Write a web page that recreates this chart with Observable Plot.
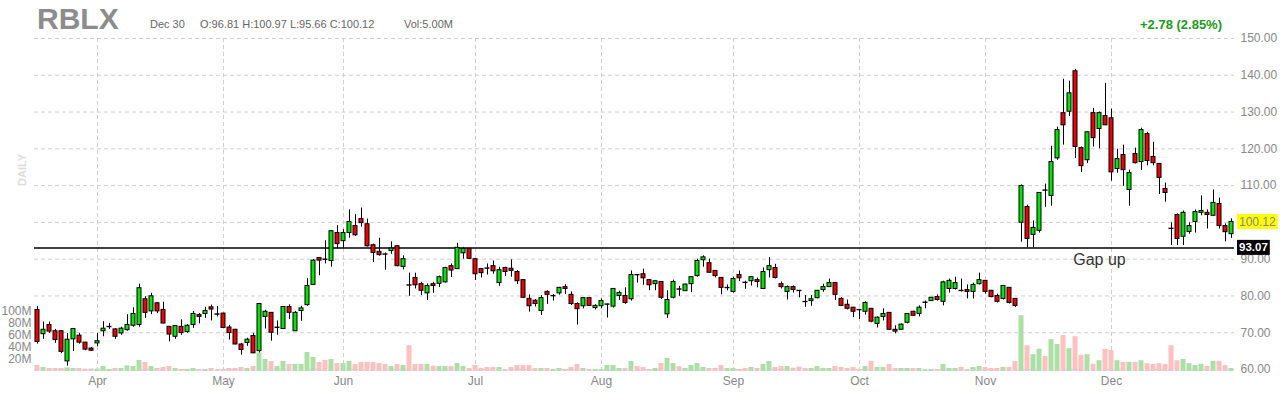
<!DOCTYPE html>
<html>
<head>
<meta charset="utf-8">
<script src="https://cdn.jsdelivr.net/npm/d3@7"></script>
<script src="https://cdn.jsdelivr.net/npm/@observablehq/plot@0.6"></script>
<style>
  body { margin: 0; background: #fff; font-family: "Liberation Sans", Arial, sans-serif; }
  #wrap { position: relative; width: 1280px; height: 400px; overflow: hidden; }
  #wrap svg { position: absolute; left: 0; top: 0; }
  .hdr { position: absolute; white-space: nowrap; line-height: 1; }
  #sym { left: 37px; top: 4px; font-size: 30px; font-weight: bold; color: #8c8c8c; }
  .info { top: 19px; font-size: 11px; color: #666; }
  #chg { right: 58px; top: 18px; font-size: 13px; font-weight: bold; color: #229922; }
  #daily { left: 22px; top: 170px; font-size: 11px; font-weight: bold; color: #dcdcdc; transform: translate(-50%,-50%) rotate(-90deg); }
</style>
</head>
<body>
<div id="wrap">
  <div class="hdr" id="sym"></div>
  <div class="hdr info" id="infoDate" style="left:150px"></div>
  <div class="hdr info" id="infoOhlc" style="left:200px"></div>
  <div class="hdr info" id="infoVol" style="left:404px"></div>
  <div class="hdr" id="chg"></div>
  <div class="hdr" id="daily"></div>
</div>
<script>
// ---------- data ----------
const symbol = "RBLX";
const periodLabel = "DAILY";
const dates = [
"3/18","3/19","3/22","3/23","3/24","3/25","3/26","3/29","3/30","3/31",
"4/1","4/5","4/6","4/7","4/8","4/9","4/12","4/13","4/14","4/15","4/16","4/19","4/20","4/21","4/22","4/23","4/26","4/27","4/28","4/29","4/30",
"5/3","5/4","5/5","5/6","5/7","5/10","5/11","5/12","5/13","5/14","5/17","5/18","5/19","5/20","5/21","5/24","5/25","5/26","5/27","5/28",
"6/1","6/2","6/3","6/4","6/7","6/8","6/9","6/10","6/11","6/14","6/15","6/16","6/17","6/18","6/21","6/22","6/23","6/24","6/25","6/28","6/29","6/30",
"7/1","7/2","7/6","7/7","7/8","7/9","7/12","7/13","7/14","7/15","7/16","7/19","7/20","7/21","7/22","7/23","7/26","7/27","7/28","7/29","7/30",
"8/2","8/3","8/4","8/5","8/6","8/9","8/10","8/11","8/12","8/13","8/16","8/17","8/18","8/19","8/20","8/23","8/24","8/25","8/26","8/27","8/30","8/31",
"9/1","9/2","9/3","9/7","9/8","9/9","9/10","9/13","9/14","9/15","9/16","9/17","9/20","9/21","9/22","9/23","9/24","9/27","9/28","9/29","9/30",
"10/1","10/4","10/5","10/6","10/7","10/8","10/11","10/12","10/13","10/14","10/15","10/18","10/19","10/20","10/21","10/22","10/25","10/26","10/27","10/28","10/29",
"11/1","11/2","11/3","11/4","11/5","11/8","11/9","11/10","11/11","11/12","11/15","11/16","11/17","11/18","11/19","11/22","11/23","11/24","11/26","11/29","11/30",
"12/1","12/2","12/3","12/6","12/7","12/8","12/9","12/10","12/13","12/14","12/15","12/16","12/17","12/20","12/21","12/22","12/23","12/27","12/28","12/29","12/30"
];
const open = [
76.2,69.6,72.1,70.4,70.4,62.2,68.2,69.2,67.3,65.7,
67.1,70.4,71.5,70.9,69.8,70.7,71.9,72.1,79.1,75.8,
78.0,76.2,71.6,68.9,71.6,70.2,72.1,74.8,75.1,76.9,
75.0,75.2,71.4,70.8,66.8,67.2,69.1,65.0,74.3,75.4,
71.3,71.0,77.0,70.4,75.9,77.5,83.0,90.3,89.9,89.5,
97.1,94.9,97.1,99.0,100.9,99.5,93.8,92.0,91.3,92.2,
93.5,87.9,82.9,84.9,83.2,80.7,83.2,83.3,83.7,88.1,
87.3,91.6,92.8,90.0,87.3,87.5,88.1,83.5,87.6,87.4,
86.5,84.3,79.2,78.7,75.9,81.1,79.9,80.7,82.4,80.3,
77.8,77.2,79.4,76.7,77.2,77.6,77.1,80.0,80.0,79.1,
85.7,85.9,84.3,83.2,83.8,75.0,79.5,81.8,81.3,83.2,
85.4,89.7,88.9,86.8,84.9,82.1,81.1,85.7,83.6,84.0,
84.3,81.9,87.0,87.6,83.2,81.1,82.4,81.4,78.4,78.6,
79.4,81.6,82.4,83.5,79.2,77.6,76.8,76.2,75.7,76.5,
72.4,74.3,75.4,70.8,70.8,72.7,75.7,75.1,78.1,78.6,
79.7,78.4,81.9,81.9,81.4,81.6,81.1,83.2,84.1,81.4,
80.0,79.2,82.2,79.2,99.9,104.2,96.6,97.7,108.7,107.2,
117.4,129.7,130.1,141.1,120.2,116.9,129.7,125.4,128.9,128.3,
114.5,118.3,108.8,118.6,116.4,124.0,117.8,115.9,109.1,98.3,
102.0,96.1,97.4,100.1,102.6,102.6,101.8,105.0,99.0,96.81
];
const high = [
77.1,72.9,72.9,70.9,70.5,69.8,71.1,69.8,67.4,66.0,
69.8,73.0,72.5,71.1,71.5,74.9,76.8,83.2,79.8,80.7,
78.2,78.3,71.7,71.9,73.5,72.2,75.8,75.2,76.9,77.5,
77.1,75.3,72.0,70.9,67.1,68.5,69.8,77.9,76.1,75.5,
73.2,77.1,77.6,75.8,77.2,84.7,89.9,90.4,95.0,97.7,
99.1,98.0,103.4,102.1,103.9,100.9,94.1,95.7,91.7,94.7,
93.6,90.9,86.2,86.2,83.7,83.3,83.7,85.4,87.8,88.7,
94.3,93.2,92.9,90.1,87.4,88.7,89.5,87.8,87.8,89.8,
86.9,84.4,80.3,79.0,80.1,81.4,80.4,82.3,83.1,81.1,
78.1,79.5,79.5,77.6,79.2,77.8,82.0,81.3,82.2,86.8,
85.8,87.3,84.4,84.1,83.9,81.4,84.3,82.6,83.2,85.2,
90.0,90.9,90.0,86.9,85.0,83.0,85.1,86.8,84.0,85.2,
84.9,87.6,90.4,88.6,83.8,82.7,82.7,81.5,80.1,80.1,
81.5,83.2,84.6,83.6,79.5,78.9,76.9,76.3,78.4,76.6,
74.3,76.5,75.5,71.9,72.4,75.2,75.8,77.3,78.6,79.6,
80.3,84.0,84.6,85.1,84.6,83.0,83.5,86.2,84.2,81.5,
80.5,82.8,82.3,79.3,110.2,104.7,100.4,108.1,110.4,120.7,
125.9,138.9,138.4,141.6,120.5,124.6,131.0,130.0,137.8,130.8,
119.9,121.0,114.2,120.2,125.6,124.5,121.8,116.0,110.7,99.9,
102.3,103.1,99.9,103.4,107.2,103.4,108.8,106.6,99.6,100.97
];
const low = [
66.9,68.2,69.8,67.1,64.3,60.9,64.9,66.9,65.1,64.9,
66.2,68.9,70.9,68.2,69.3,70.4,71.5,71.5,73.9,74.9,
75.2,72.4,67.5,68.2,69.3,69.8,71.2,72.4,73.9,73.2,
74.3,71.2,68.0,66.7,63.9,66.3,64.3,64.5,71.0,67.7,
69.3,70.9,73.6,70.3,73.1,77.2,82.9,85.5,88.7,87.8,
92.8,93.0,95.7,96.2,98.7,93.3,89.1,90.8,87.0,91.3,
87.9,87.1,79.9,81.9,80.1,78.8,80.7,82.3,83.5,85.0,
87.2,90.0,90.0,84.2,84.9,85.7,85.9,82.6,85.3,85.1,
83.1,79.4,75.6,77.0,74.7,77.7,78.6,80.2,80.4,77.4,
72.1,76.5,77.2,76.2,76.5,74.0,76.7,78.8,77.7,78.6,
83.5,82.9,81.4,81.4,79.0,73.9,79.2,79.9,81.2,80.9,
85.1,87.8,86.2,84.9,80.3,81.4,80.8,83.9,81.8,82.7,
82.2,81.8,84.9,84.6,81.9,78.9,80.8,79.5,76.9,77.2,
79.2,81.0,82.3,78.8,77.2,76.2,74.1,73.6,74.8,72.7,
71.3,73.2,70.7,69.7,70.7,72.4,74.5,74.3,76.5,78.5,
78.6,77.3,80.8,81.6,81.1,79.2,79.2,83.0,80.5,79.5,
78.1,78.9,77.8,76.9,94.6,93.1,93.1,97.1,104.1,104.4,
116.9,121.0,128.8,117.4,113.6,116.0,120.5,120.0,126.3,111.2,
113.4,109.8,104.4,115.9,114.1,115.4,115.4,107.6,105.5,93.7,
93.7,93.7,96.8,97.1,101.8,98.2,101.7,98.2,94.7,95.66
];
const close = [
67.5,70.8,70.3,68.0,64.8,68.1,71.0,67.3,65.4,65.1,
67.7,71.1,71.6,68.9,71.1,72.1,75.1,82.1,75.4,79.9,
75.8,72.5,69.5,71.8,69.9,71.9,75.1,74.3,75.9,76.3,
74.9,71.3,69.9,66.8,65.3,68.1,64.4,77.8,75.7,70.0,
71.4,77.0,75.4,75.4,76.6,82.7,89.6,89.6,89.8,97.6,
94.1,97.1,100.1,96.5,99.8,93.5,91.7,91.1,91.2,92.9,
88.1,90.0,82.8,82.9,81.4,82.7,82.7,85.1,87.6,86.9,
93.1,92.8,90.1,85.9,86.2,87.4,86.7,87.0,86.5,86.8,
84.0,79.5,77.2,77.8,79.4,80.3,80.0,82.2,81.9,77.8,
76.4,79.4,77.3,77.3,78.6,77.7,81.9,80.8,78.1,85.7,
85.6,84.8,82.9,84.0,79.5,78.9,83.8,81.7,83.1,85.1,
89.5,90.5,86.3,85.4,82.2,82.2,84.6,84.8,83.5,85.1,
83.8,86.5,88.1,84.9,82.4,82.4,81.6,81.3,78.3,79.1,
81.4,82.4,83.5,80.3,77.3,76.5,75.7,76.1,78.1,73.0,
74.1,75.1,70.8,70.3,72.2,75.1,74.6,76.8,78.2,79.5,
78.9,83.7,84.1,83.5,81.3,81.1,83.0,84.3,81.1,79.7,
78.4,82.7,78.1,77.3,109.9,95.5,98.5,108.0,108.6,116.4,
125.1,126.4,135.1,120.5,115.3,124.5,122.9,129.7,126.4,113.6,
117.2,114.2,113.4,116.1,125.1,116.7,116.1,112.1,108.0,98.2,
95.5,102.6,99.0,102.8,103.1,102.0,105.3,99.0,97.34,100.12
];
// volume in millions
const volume = [
10,6.7,5,5,5,6,5,5,4,4,
4,8.3,3.3,5,5,9.4,8.3,18.3,15,8.3,
5,6.7,8.3,5,3.3,3.3,5,3.3,3.3,5,
2.2,3.3,5,5,6.7,5,8.3,31,20,16.7,
8.3,16.7,11.7,11.7,11.7,31.7,23.3,15,18.3,20,
13.3,13.3,16.7,11.7,15,15,15,13.3,11.7,8.3,
11.7,10,43,11.7,11.7,11.7,9,8.3,8.3,8.3,
13.3,8.3,5,10,5,6.7,6.7,6.7,3.3,6.7,
10,10,10,5,5,5,3.3,5,3.3,6.7,
11.7,5,3.3,3.3,3.3,10,10,5,5,16.7,
8.3,6.7,3.3,5,13.3,21.7,13.3,8.3,5,10,
13.3,6.7,5,5,10,5,5,3.3,5,6.7,
5,11.7,16.7,6.7,8.3,8.3,5.6,7.2,5,5,
8.3,5,5,8.3,6.7,5,6.7,3.3,8.3,16.7,
6.7,6.7,11.7,5,5,5,5,5,3.3,3.3,
3.3,11.7,5,5,6.7,3.3,6.7,8.3,6.7,5,
5,6.7,6.7,16.7,93,43,28,37,25,53,
45,60,38,58,27,28,12,18,37,35,
18,15,15,15,18,13,12,13,12,43,
18,20,13,10,12,8.3,17,17,10,5
];
const monthTicks = ["4/1","5/3","6/1","7/1","8/2","9/1","10/1","11/1","12/1"];
const monthLabels = ["Apr","May","Jun","Jul","Aug","Sep","Oct","Nov","Dec"];
const priceTicks = [60,70,80,90,100,110,120,130,140,150];
const volumeTicks = [20,40,60,80,100];
const gapLevel = 93.07;
const gapNote = [{date: "11/29", label: "Gap up"}];
const lastDateLabel = "Dec 30";
const lastVolumeLabel = "5.00M";
const change = 2.78;
const changePct = 2.85;

// ---------- build ----------
const GREEN = "#00e600", RED = "#ee0000", VGREEN = "#acdfa6", VRED = "#ffc0c0";
const rows = dates.map((date, i) => ({date, o: open[i], h: high[i], l: low[i], c: close[i], v: volume[i], up: close[i] >= open[i]}));
const last = rows[rows.length - 1];

document.getElementById("sym").textContent = symbol;
document.getElementById("infoDate").textContent = lastDateLabel;
document.getElementById("infoOhlc").textContent = `O:${last.o.toFixed(2)} H:${last.h.toFixed(2)} L:${last.l.toFixed(2)} C:${last.c.toFixed(2)}`;
document.getElementById("infoVol").textContent = `Vol:${lastVolumeLabel}`;
document.getElementById("chg").textContent = `+${change.toFixed(2)} (${changePct.toFixed(2)}%)`;
document.getElementById("daily").textContent = periodLabel;

const W = 1280, H = 400, ML = 34, MR = 46;
const baseStyle = {background: "transparent", fontFamily: "'Liberation Sans', Arial, sans-serif", fontSize: "12px", color: "#888", overflow: "visible"};
// axis labels hidden behind the last-close tag (as in the reference)
const priceAxisTicks = priceTicks.filter(t => Math.abs(t - last.c) > 2);

const volPlot = Plot.plot({
  width: W, height: H, marginLeft: ML, marginRight: MR, marginTop: 311, marginBottom: 29,
  style: baseStyle,
  x: {type: "band", domain: dates, padding: 0, round: false, axis: null},
  y: {domain: [0, 100], axis: "left", ticks: volumeTicks, tickFormat: d => d + "M", tickSize: 0, tickPadding: 3, label: null},
  color: {type: "identity"},
  marks: [
    Plot.barY(rows, {x: "date", y: "v", fill: d => d.up ? VGREEN : VRED, insetLeft: 0.5, insetRight: 0.5})
  ]
});

const pricePlot = Plot.plot({
  width: W, height: H, marginLeft: ML, marginRight: MR, marginTop: 38, marginBottom: 31,
  style: baseStyle,
  x: {type: "band", domain: dates, padding: 0, round: false, ticks: monthTicks,
      tickFormat: d => { const k = monthTicks.indexOf(d); return k >= 0 ? monthLabels[k] : ""; },
      tickSize: 0, tickPadding: 7, label: null},
  y: {domain: [60, 150], axis: "right", ticks: priceAxisTicks, tickFormat: d => d.toFixed(2), tickSize: 0, tickPadding: 6, label: null},
  color: {type: "identity"},
  marks: [
    Plot.ruleY(priceTicks, {stroke: "#cfcfcf", strokeDasharray: "4,3"}),
    Plot.ruleX(monthTicks, {x: d => d, stroke: "#cfcfcf", strokeDasharray: "4,3"}),
    Plot.ruleY([gapLevel], {stroke: "#000", strokeWidth: 1.5}),
    Plot.ruleX(rows, {x: "date", y1: "l", y2: "h", stroke: "#000", strokeWidth: 1}),
    Plot.barY(rows, {x: "date", y1: "o", y2: "c", fill: d => d.up ? GREEN : RED, stroke: "#000", strokeWidth: 1, insetLeft: 1, insetRight: 1}),
    Plot.text(gapNote, {x: "date", y: () => gapLevel, text: "label", dy: 12, fontSize: 16, fill: "#333"})
  ]
});

const wrap = document.getElementById("wrap");
wrap.insertBefore(pricePlot, wrap.firstChild);
wrap.insertBefore(volPlot, wrap.firstChild);

// price tags on the right axis
const ys = pricePlot.scale("y");
const svg = d3.select(pricePlot);
function tag(v, bg, fg, weight, fs) {
  const y = ys.apply(v);
  const g = svg.append("g");
  const r = g.append("rect").attr("fill", bg);
  const t = g.append("text").attr("x", W - MR + 5).attr("y", y + fs * 0.35).attr("fill", fg)
    .attr("text-anchor", "start").attr("font-size", fs).attr("font-weight", weight).text(v.toFixed(2));
  const w = t.node().getComputedTextLength();
  r.attr("x", W - MR + 3).attr("y", y - 7.5).attr("width", w + 4).attr("height", 15);
}
tag(last.c, "#ffff00", "#888", "normal", 12);
tag(gapLevel, "#000", "#fff", "bold", 11.5);
</script>
</body>
</html>
